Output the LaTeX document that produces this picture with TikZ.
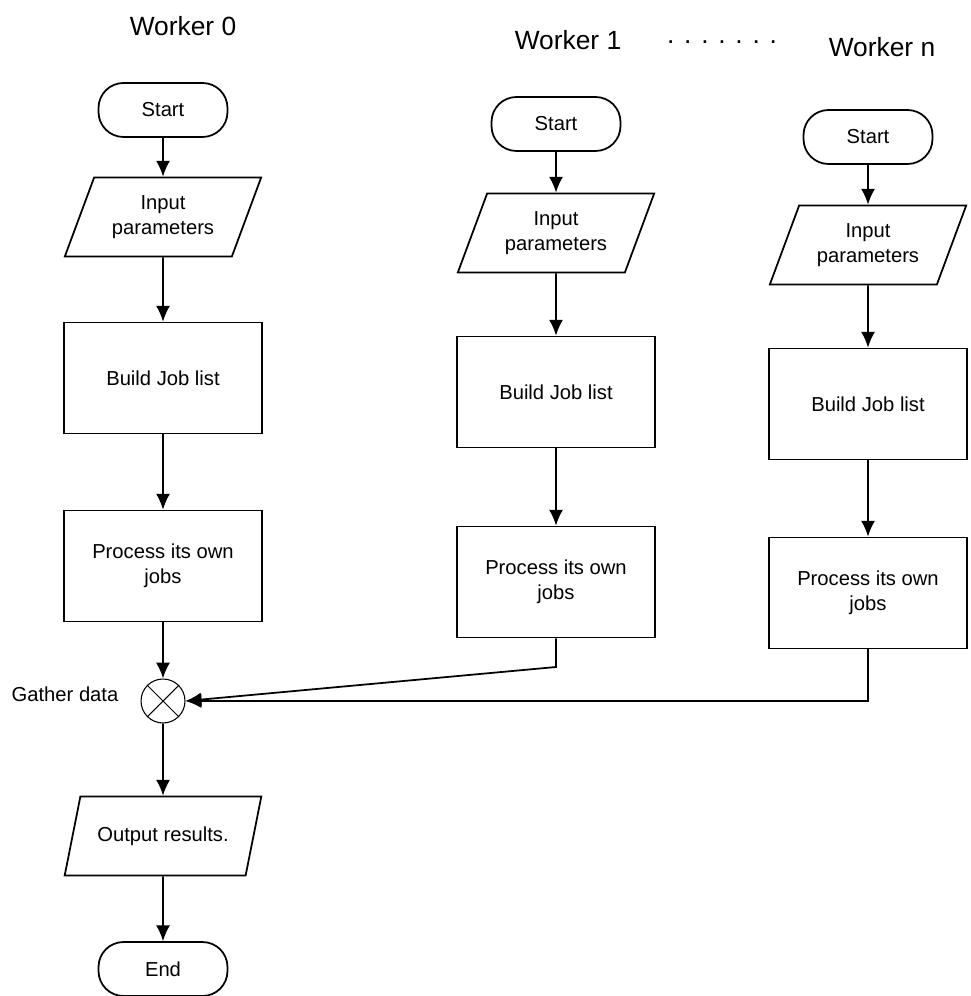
\documentclass[tikz,border=0pt]{standalone}
\usepackage{fontspec}
\setmainfont{Liberation Sans}
\usepackage{tikz}
\usetikzlibrary{shapes.geometric,arrows.meta}

\tikzset{
  terminal/.style={draw, rectangle, rounded corners=0.5cm, minimum width=2.58cm, minimum height=1.08cm},
  inout/.style={draw, trapezium, trapezium left angle=66, trapezium right angle=114,
    trapezium stretches=true, minimum width=3.94cm, minimum height=1.58cm, align=center},
  jobbox/.style={draw, rectangle, minimum width=3.95cm, minimum height=2.22cm, align=center},
  gathercirc/.style={draw, circle, line width=0.6pt, minimum size=0.88cm, inner sep=0pt},
  heading/.style={font=\fontsize{15}{18}\selectfont},
  flow/.style={-{Latex[length=9pt,width=8pt]}}
}

\begin{document}
\begin{tikzpicture}[x=0.02cm, y=-0.02cm, line width=1pt,
    every node/.append style={font=\fontsize{11.5}{14}\selectfont}]
  \useasboundingbox (0,0) rectangle (970,996);

  % column headings
  \node[heading] (h0) at (183,26) {Worker 0};
  \node[heading] (h1) at (568,40) {Worker 1};
  \node[heading] (hdots) at (722,42) {. . . . . . .};
  \node[heading] (hn) at (882,47) {Worker n};

  % worker 0
  \node[terminal] (st0) at (163,110) {Start};
  \node[inout] (in0) at (163,217) {Input\\parameters};
  \node[jobbox] (bl0) at (163,378) {Build Job list};
  \node[jobbox] (pr0) at (163,566) {Process its own\\jobs};
  \node[gathercirc] (ga) at (163,701) {};
  \node (galab) at (65,694) {Gather data};
  \node[inout] (out0) at (163,836) {Output results.};
  \node[terminal] (end0) at (163,969) {End};
  \draw[line width=0.6pt] (ga.north east) -- (ga.south west);
  \draw[line width=0.6pt] (ga.north west) -- (ga.south east);

  % worker 1
  \node[terminal] (st1) at (556,124) {Start};
  \node[inout] (in1) at (556,233) {Input\\parameters};
  \node[jobbox] (bl1) at (556,392) {Build Job list};
  \node[jobbox] (pr1) at (556,582) {Process its own\\jobs};

  % worker n
  \node[terminal] (stn) at (868,137) {Start};
  \node[inout] (inn) at (868,245) {Input\\parameters};
  \node[jobbox] (bln) at (868,404) {Build Job list};
  \node[jobbox] (prn) at (868,593) {Process its own\\jobs};

  % connectors
  \draw[flow] (st0) -- (in0);
  \draw[flow] (in0) -- (bl0);
  \draw[flow] (bl0) -- (pr0);
  \draw[flow] (pr0) -- (ga);
  \draw[flow] (ga) -- (out0);
  \draw[flow] (out0) -- (end0);
  \draw[flow] (st1) -- (in1);
  \draw[flow] (in1) -- (bl1);
  \draw[flow] (bl1) -- (pr1);
  \draw[flow] (stn) -- (inn);
  \draw[flow] (inn) -- (bln);
  \draw[flow] (bln) -- (prn);
  \coordinate (bend1) at (556,667);
  \draw[flow] (pr1.south) -- (bend1) -- (ga.east);
  \draw[flow] (prn.south) |- (ga.east);
\end{tikzpicture}
\end{document}
